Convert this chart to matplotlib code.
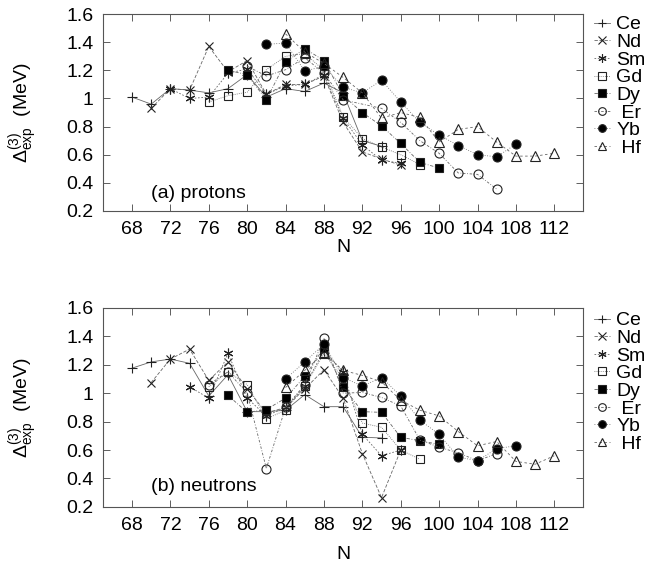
import matplotlib
matplotlib.use("Agg")
import matplotlib.pyplot as plt

plt.rcParams['font.family'] = ['Liberation Sans', 'DejaVu Sans']
plt.rcParams['mathtext.fontset'] = 'custom'
plt.rcParams['mathtext.rm'] = 'Liberation Sans'
plt.rcParams['mathtext.it'] = 'Liberation Sans:italic'

elements = ['Ce', 'Nd', 'Sm', 'Gd', 'Dy', 'Er', 'Yb', 'Hf']
legend_labels = ['Ce', 'Nd', 'Sm', 'Gd', 'Dy', ' Er', 'Yb', ' Hf']
x_ticks = [68, 72, 76, 80, 84, 88, 92, 96, 100, 104, 108, 112]
y_ticks = [0.2, 0.4, 0.6, 0.8, 1.0, 1.2, 1.4, 1.6]
y_ticklabels = ['0.2', '0.4', '0.6', '0.8', '1', '1.2', '1.4', '1.6']

# (a) protons
p_Ce_N = [68, 70, 72, 74, 76, 78, 80, 82, 84, 86, 88, 90, 92, 94]
p_Ce = [1.01, 0.96, 1.07, 1.06, 1.04, 1.07, 1.17, 1.01, 1.07, 1.05, 1.11, 1.04, 0.70, 0.66]
p_Nd_N = [70, 72, 74, 76, 78, 80, 82, 84, 86, 88, 90, 92, 94, 96]
p_Nd = [0.93, 1.07, 1.06, 1.37, 1.19, 1.27, 1.03, 1.10, 1.10, 1.16, 0.83, 0.62, 0.57, 0.525]
p_Sm_N = [72, 74, 76, 78, 80, 82, 84, 86, 88, 90, 92, 94, 96]
p_Sm = [1.07, 1.00, 1.01, 1.18, 1.21, 1.03, 1.09, 1.10, 1.17, 0.86, 0.67, 0.56, 0.54]
p_Gd_N = [76, 78, 80, 82, 84, 86, 88, 90, 92, 94, 96, 98]
p_Gd = [0.975, 1.02, 1.045, 1.205, 1.30, 1.32, 1.20, 0.87, 0.715, 0.655, 0.60, 0.53]
p_Dy_N = [78, 80, 82, 84, 86, 88, 90, 92, 94, 96, 98, 100]
p_Dy = [1.20, 1.17, 0.99, 1.26, 1.355, 1.27, 1.02, 0.90, 0.805, 0.68, 0.545, 0.505]
p_Er_N = [80, 82, 84, 86, 88, 90, 94, 96, 98, 100, 102, 104, 106]
p_Er = [1.23, 1.16, 1.205, 1.29, 1.18, 0.99, 0.93, 0.83, 0.70, 0.61, 0.47, 0.46, 0.355]
p_Yb_N = [82, 84, 86, 88, 90, 92, 94, 96, 98, 100, 102, 104, 106, 108]
p_Yb = [1.385, 1.395, 1.195, 1.23, 1.08, 1.04, 1.13, 0.975, 0.83, 0.74, 0.665, 0.60, 0.585, 0.675]
p_Hf_N = [84, 86, 88, 90, 92, 94, 96, 98, 100, 102, 104, 106, 108, 110, 112]
p_Hf = [1.46, 1.33, 1.25, 1.15, 1.04, 0.86, 0.90, 0.865, 0.69, 0.78, 0.80, 0.69, 0.59, 0.59, 0.61]

# (b) neutrons
n_Ce_N = [68, 70, 72, 74, 76, 78, 80, 82, 84, 86, 88, 90, 92, 94]
n_Ce = [1.176, 1.22, 1.24, 1.21, 0.98, 1.13, 0.87, 0.87, 0.88, 0.99, 0.905, 0.905, 0.69, 0.685]
n_Nd_N = [70, 72, 74, 76, 78, 80, 82, 84, 86, 88, 90, 92, 94, 96]
n_Nd = [1.075, 1.24, 1.31, 1.09, 1.22, 1.03, 0.86, 0.90, 1.03, 1.165, 0.965, 0.575, 0.265, 0.60]
n_Sm_N = [74, 76, 78, 80, 82, 84, 86, 88, 90, 92, 94, 96]
n_Sm = [1.045, 0.965, 1.28, 0.965, 0.84, 0.90, 1.05, 1.30, 1.15, 0.71, 0.56, 0.60]
n_Gd_N = [76, 78, 80, 82, 84, 86, 88, 90, 92, 94, 96, 98]
n_Gd = [1.045, 1.15, 1.06, 0.82, 0.88, 1.05, 1.28, 1.10, 0.79, 0.76, 0.60, 0.535]
n_Dy_N = [78, 80, 82, 84, 86, 88, 90, 92, 94, 96, 98, 100]
n_Dy = [0.985, 0.865, 0.885, 0.965, 1.118, 1.32, 1.045, 0.87, 0.865, 0.69, 0.665, 0.64]
n_Er_N = [76, 78, 80, 82, 84, 86, 88, 90, 92, 94, 96, 98, 100, 102, 104, 106]
n_Er = [1.06, 1.15, 1.00, 0.47, 0.90, 1.06, 1.385, 1.00, 1.005, 0.97, 0.91, 0.67, 0.62, 0.58, 0.525, 0.575]
n_Yb_N = [84, 86, 88, 90, 92, 94, 96, 98, 100, 102, 104, 106, 108]
n_Yb = [1.10, 1.22, 1.345, 1.11, 1.05, 1.11, 0.98, 0.81, 0.71, 0.55, 0.525, 0.61, 0.63]
n_Hf_N = [84, 86, 88, 90, 92, 94, 96, 98, 100, 102, 104, 106, 108, 110, 112]
n_Hf = [1.04, 1.16, 1.28, 1.16, 1.125, 1.08, 0.95, 0.88, 0.84, 0.73, 0.63, 0.66, 0.52, 0.50, 0.56]

protons = [(p_Ce_N, p_Ce), (p_Nd_N, p_Nd), (p_Sm_N, p_Sm), (p_Gd_N, p_Gd),
           (p_Dy_N, p_Dy), (p_Er_N, p_Er), (p_Yb_N, p_Yb), (p_Hf_N, p_Hf)]
neutrons = [(n_Ce_N, n_Ce), (n_Nd_N, n_Nd), (n_Sm_N, n_Sm), (n_Gd_N, n_Gd),
            (n_Dy_N, n_Dy), (n_Er_N, n_Er), (n_Yb_N, n_Yb), (n_Hf_N, n_Hf)]

# gnuplot-like styles
styles = {
    'Ce': dict(marker='+', ls='-', mfc='none', ms=7),
    'Nd': dict(marker='x', ls=(0, (4, 2)), mfc='none', ms=6),
    'Sm': dict(marker=(6, 2, 0), ls=(0, (2, 2)), mfc='none', ms=7),
    'Gd': dict(marker='s', ls=(0, (1, 1.5)), mfc='none', ms=6),
    'Dy': dict(marker='s', ls=(0, (4, 2, 1, 2)), mfc='black', ms=6),
    'Er': dict(marker='o', ls=(0, (3, 2, 1, 2)), mfc='none', ms=6.5),
    'Yb': dict(marker='o', ls=(0, (1, 2)), mfc='black', ms=6.5),
    'Hf': dict(marker='^', ls=(0, (3, 3)), mfc='none', ms=6.5),
}

fig = plt.figure(figsize=(6.45, 5.67), dpi=100)
ax1 = fig.add_axes([0.160, 0.628, 0.744, 0.347])
ax2 = fig.add_axes([0.160, 0.106, 0.744, 0.351])

panels = [(ax1, protons, '(a) protons', 1, 0.972, 0.09),
          (ax2, neutrons, '(b) neutrons', 9, 0.450, 0.10)]

for ax, data, tag, xpad, leg_top, tag_y in panels:
    for el, lab, (xs, ys) in zip(elements, legend_labels, data):
        st = styles[el]
        ax.plot(xs, ys, color='#666666', lw=0.6, ls=st['ls'], marker=st['marker'],
                ms=st['ms'], mfc=st['mfc'], mec='#222222', mew=0.8, label=lab)
    ax.set_xlim(65, 115)
    ax.set_ylim(0.2, 1.6)
    ax.set_xticks(x_ticks)
    ax.set_yticks(y_ticks)
    ax.set_yticklabels(y_ticklabels)
    ax.tick_params(direction='in', top=True, right=True, labelsize=14,
                   length=5, width=0.6, color='#444444', pad=7)
    for sp in ax.spines.values():
        sp.set_linewidth(0.8)
        sp.set_color('#555555')
    ax.set_xlabel('N', fontsize=14, labelpad=xpad)
    ax.set_ylabel(r'$\Delta^{(3)}_{\rm exp}$  (MeV)', fontsize=14, labelpad=19)
    ax.text(0.1, tag_y, tag, transform=ax.transAxes, fontsize=14, va='center')
    ax.legend(loc='upper left', bbox_to_anchor=(0.921, leg_top),
              bbox_transform=fig.transFigure, frameon=False,
              fontsize=14, handlelength=0.8, handletextpad=0.35,
              labelspacing=0.0, borderaxespad=0, borderpad=0, markerscale=0.85)

fig.savefig('out.png', dpi=100)
